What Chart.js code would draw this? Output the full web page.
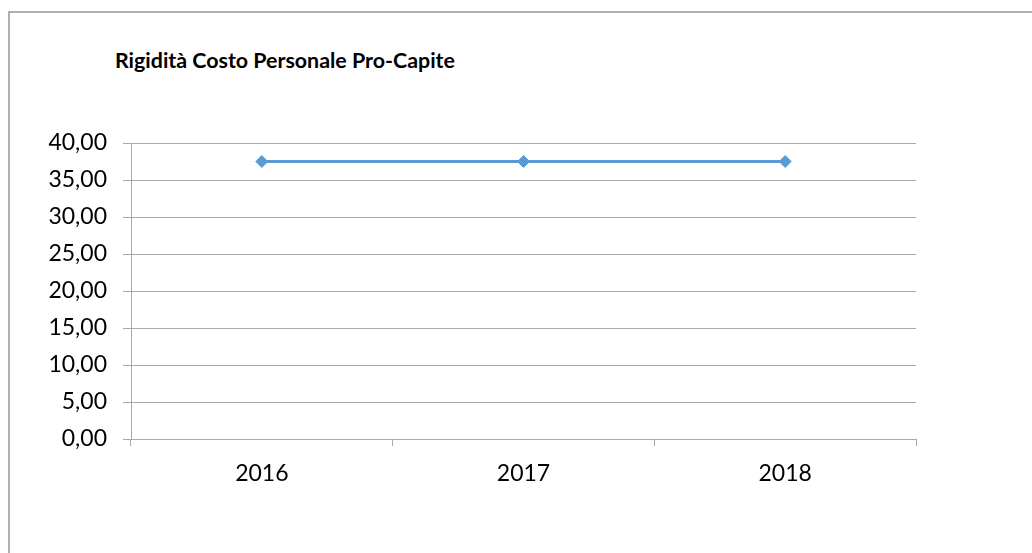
<!DOCTYPE html>
<html>
<head>
<meta charset="utf-8">
<script src="https://cdn.jsdelivr.net/npm/chart.js@4/dist/chart.umd.min.js"></script>
<style>
  html, body { margin:0; padding:0; background:#fff; }
  #wrap { position:relative; width:1032px; height:553px; overflow:hidden; }
  #frame { position:absolute; left:8px; top:11px; width:1100px; height:600px; border-left:2px solid #b0b0b0; border-top:2px solid #b0b0b0; }
  #title { position:absolute; left:115px; top:50px; font:bold 21.4px Lato, sans-serif; line-height:1; color:#000; white-space:nowrap; }
  canvas { position:absolute; left:0; top:0; }
</style>
</head>
<body>
<div id="wrap">
  <div id="frame"></div>
  <div id="title">Rigidità Costo Personale Pro-Capite</div>
  <canvas id="chart" width="1032" height="553"></canvas>
</div>
<script>
// dati
const years = ['2016', '2017', '2018'];
const rigidita = [37.5, 37.5, 37.5];
const yMin = 0, yMax = 40, yStep = 5;

const gridColor = '#a9a9a9';
const blue = '#5b9bd5';

new Chart(document.getElementById('chart'), {
  type: 'line',
  data: {
    labels: years,
    datasets: [{
      label: 'Rigidità Costo Personale Pro-Capite',
      data: rigidita,
      borderColor: blue,
      backgroundColor: blue,
      borderWidth: 3,
      pointStyle: 'rectRot',
      pointRadius: 6,
      pointBorderWidth: 1,
      pointBorderColor: blue,
      pointBackgroundColor: blue,
      tension: 0
    }]
  },
  options: {
    responsive: false,
    animation: false,
    layout: { padding: { left: 0, top: 143, right: 116, bottom: 54 } },
    plugins: { legend: { display: false }, title: { display: false }, tooltip: { enabled: false } },
    scales: {
      x: {
        offset: true,
        grid: { offset: true, drawOnChartArea: false, drawTicks: true, tickLength: 7, color: gridColor, lineWidth: 1 },
        border: { display: true, color: gridColor, width: 1 },
        ticks: { color: '#000', padding: 14, font: { family: 'Lato', size: 23 }, maxRotation: 0 },
        afterFit: s => { s.height = 60; }
      },
      y: {
        min: yMin, max: yMax,
        grid: { color: gridColor, lineWidth: 1, tickLength: 8 },
        border: { display: true, color: gridColor, width: 1 },
        ticks: {
          stepSize: yStep, color: '#000', padding: 16,
          font: { family: 'Lato', size: 23 },
          callback: v => v.toFixed(2).replace('.', ',')
        },
        afterFit: s => { s.width = 131; }
      }
    }
  }
});
</script>
</body>
</html>
